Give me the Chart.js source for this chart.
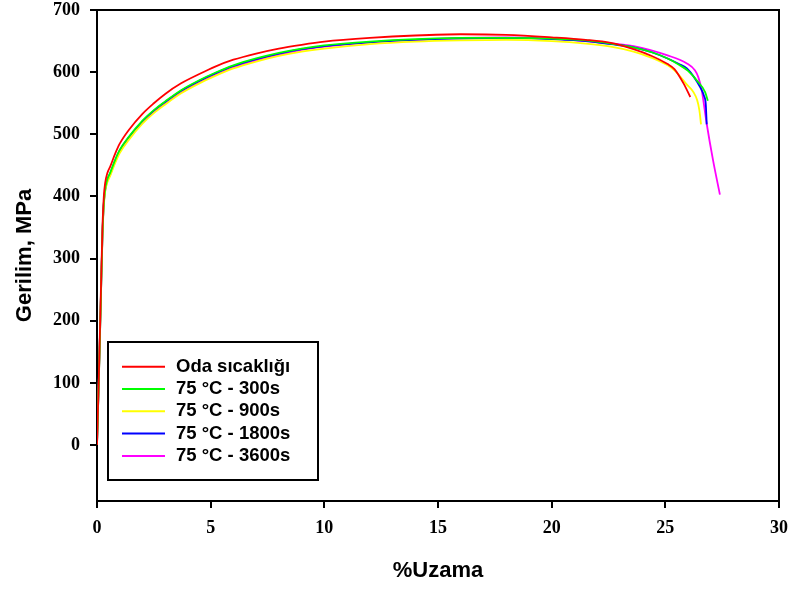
<!DOCTYPE html>
<html>
<head>
<meta charset="utf-8">
<script src="https://cdn.jsdelivr.net/npm/chart.js@4.4.1/dist/chart.umd.min.js"></script>
<style>
  body { margin: 0; background: #fff; }
  #wrap { width: 791px; height: 591px; }
</style>
</head>
<body>
<div id="wrap"><canvas id="myChart" width="791" height="591"></canvas></div>
<script>
// series names and colours
var labels = ['Oda sıcaklığı', '75 °C - 300s', '75 °C - 900s', '75 °C - 1800s', '75 °C - 3600s'];
var colors = ['#ff0000', '#00ff00', '#ffff00', '#0000ff', '#ff00ff'];

// strain (%) and stress (MPa) for each test
var odaStrain = [0, 0.08, 0.16, 0.24, 0.3, 0.36, 0.45, 0.58, 0.8, 1.0, 1.4, 2.0, 2.5, 3.0, 3.7, 4.5, 5.2, 6, 7, 8, 9, 10, 12, 14, 16, 18, 20, 21.5, 22.6, 23.6, 24.4, 25.1, 25.4, 25.8, 26.1];
var odaStress = [0, 110, 230, 350, 400, 422, 437, 448, 469, 485, 507, 533, 550, 565, 582, 597, 609, 620, 630, 638, 644, 649, 655, 659, 661, 660, 656, 652, 647, 637, 626, 613, 605, 582, 560];

var s300Strain = [0, 0.08, 0.16, 0.24, 0.3, 0.36, 0.45, 0.58, 0.8, 1.0, 1.4, 2.0, 2.5, 3.0, 3.7, 4.5, 5.2, 6, 7, 8, 9, 10, 12, 14, 16, 18, 20, 21.5, 22.6, 23.6, 24.4, 25.1, 25.6, 26.0, 26.4, 26.75, 26.87];
var s300Stress = [0, 105, 222, 340, 390, 412, 427, 438, 459, 475, 496, 522, 539, 553, 571, 587, 599, 611, 622, 631, 638, 643, 649, 653, 655, 655, 654, 651, 646, 640, 632, 622, 612, 602, 586, 568, 554];

var s900Strain = [0, 0.08, 0.16, 0.24, 0.3, 0.36, 0.45, 0.58, 0.8, 1.0, 1.4, 2.0, 2.5, 3.0, 3.7, 4.5, 5.2, 6, 7, 8, 9, 10, 12, 14, 16, 18, 20, 21.5, 22.6, 23.6, 24.4, 25.1, 25.4, 25.9, 26.4, 26.5, 26.57];
var s900Stress = [0, 102, 218, 335, 385, 408, 422, 433, 454, 470, 491, 517, 534, 548, 566, 582, 594, 606, 617, 626, 633, 638, 645, 649, 651, 652, 650, 646, 641, 633, 623, 611, 603, 582, 555, 538, 516];

var s1800Strain = [0, 0.08, 0.16, 0.24, 0.3, 0.36, 0.45, 0.58, 0.8, 1.0, 1.4, 2.0, 2.5, 3.0, 3.7, 4.5, 5.2, 6, 7, 8, 9, 10, 12, 14, 16, 18, 20, 21.5, 22.6, 23.6, 24.4, 25.1, 25.6, 25.95, 26.3, 26.53, 26.7, 26.78, 26.82];
var s1800Stress = [0, 105, 221, 339, 389, 411, 426, 437, 458, 474, 495, 521, 538, 552, 570, 586, 598, 610, 621, 630, 637, 642, 648, 652, 654, 655, 653, 650, 645, 640, 632, 622, 613, 606, 590, 576, 562, 548, 516];

var s3600Strain = [0, 0.08, 0.16, 0.24, 0.3, 0.36, 0.45, 0.58, 0.8, 1.0, 1.4, 2.0, 2.5, 3.0, 3.7, 4.5, 5.2, 6, 7, 8, 9, 10, 12, 14, 16, 18, 20, 22.1, 23.6, 25.1, 25.95, 26.3, 26.45, 26.6, 26.82, 27.1, 27.4];
var s3600Stress = [0, 104, 220, 337, 387, 409, 424, 435, 456, 472, 493, 519, 536, 550, 568, 584, 596, 608, 619, 628, 636, 641, 648, 652, 655, 656, 654, 648, 642, 627, 614, 603, 592, 571, 517, 458, 403];

// axis ticks
var xTicks = [0, 5, 10, 15, 20, 25, 30];
var yTicks = [0, 100, 200, 300, 400, 500, 600, 700];

function toPoints(xs, ys) {
  return xs.map(function(x, i) { return { x: x, y: ys[i] }; });
}

var allStrain = [odaStrain, s300Strain, s900Strain, s1800Strain, s3600Strain];
var allStress = [odaStress, s300Stress, s900Stress, s1800Stress, s3600Stress];

var datasets = labels.map(function(name, i) {
  return {
    label: name,
    data: toPoints(allStrain[i], allStress[i]),
    borderColor: colors[i],
    backgroundColor: colors[i],
    borderWidth: 1.8,
    pointRadius: 0,
    fill: false,
    cubicInterpolationMode: 'monotone'
  };
});

// closes the box on top and right, and draws the legend inside the plot
var framePlugin = {
  id: 'frame',
  afterDatasetsDraw: function(chart) {
    var ctx = chart.ctx;
    var a = chart.chartArea;
    ctx.save();
    ctx.strokeStyle = '#000';
    ctx.lineWidth = 2;
    ctx.beginPath();
    ctx.moveTo(a.left - 7, a.top);
    ctx.lineTo(a.right, a.top);
    ctx.lineTo(a.right, a.bottom);
    ctx.stroke();

    // legend box
    var bx = a.left + 11, by = a.top + 332, bw = 210, bh = 138;
    ctx.lineWidth = 2;
    ctx.fillStyle = '#fff';
    ctx.fillRect(bx, by, bw, bh);
    ctx.strokeRect(bx, by, bw, bh);
    ctx.font = 'bold 18.5px "Liberation Sans", Arial, sans-serif';
    ctx.textBaseline = 'middle';
    ctx.textAlign = 'left';
    chart.data.datasets.forEach(function(ds, i) {
      var y = by + 24.7 + i * 22.3;
      ctx.strokeStyle = ds.borderColor;
      ctx.lineWidth = 2;
      ctx.beginPath();
      ctx.moveTo(bx + 14, y);
      ctx.lineTo(bx + 57, y);
      ctx.stroke();
      ctx.fillStyle = '#000';
      ctx.fillText(ds.label, bx + 68, y);
    });
    ctx.restore();
  }
};

var ctx = document.getElementById('myChart').getContext('2d');
var myChart = new Chart(ctx, {
  type: 'line',
  data: { datasets: datasets },
  options: {
    responsive: false,
    animation: false,
    layout: { padding: { top: 10, right: 12, left: 0, bottom: 0 } },
    plugins: {
      legend: { display: false },
      tooltip: { enabled: false }
    },
    scales: {
      x: {
        type: 'linear',
        min: 0,
        max: 30,
        afterBuildTicks: function(scale) {
          scale.ticks = xTicks.map(function(v) { return { value: v }; });
        },
        afterFit: function(scale) {
          scale.height = 90;
          scale.paddingLeft = 0;
          scale.paddingRight = 0;
        },
        border: { display: true, color: '#000', width: 2 },
        grid: { drawOnChartArea: false, drawTicks: true, tickLength: 7, color: '#000', lineWidth: 2 },
        ticks: {
          color: '#000',
          padding: 10,
          maxRotation: 0,
          font: { family: '"Liberation Serif", "Times New Roman", serif', weight: 'bold', size: 18 }
        },
        title: {
          display: true,
          text: '%Uzama',
          color: '#000',
          padding: { top: 0, bottom: 7 },
          font: { family: '"Liberation Sans", Arial, sans-serif', weight: 'bold', size: 22 }
        }
      },
      y: {
        type: 'linear',
        min: -90,
        max: 700,
        afterBuildTicks: function(scale) {
          scale.ticks = yTicks.map(function(v) { return { value: v }; });
        },
        afterFit: function(scale) {
          scale.width = 97;
          scale.paddingTop = 0;
          scale.paddingBottom = 0;
        },
        border: { display: true, color: '#000', width: 2 },
        grid: { drawOnChartArea: false, drawTicks: true, tickLength: 7, color: '#000', lineWidth: 2 },
        ticks: {
          color: '#000',
          padding: 10,
          font: { family: '"Liberation Serif", "Times New Roman", serif', weight: 'bold', size: 18 }
        },
        title: {
          display: true,
          text: 'Gerilim, MPa',
          color: '#000',
          padding: { top: 12, bottom: 0 },
          font: { family: '"Liberation Sans", Arial, sans-serif', weight: 'bold', size: 22 }
        }
      }
    }
  },
  plugins: [framePlugin]
});
</script>
</body>
</html>
